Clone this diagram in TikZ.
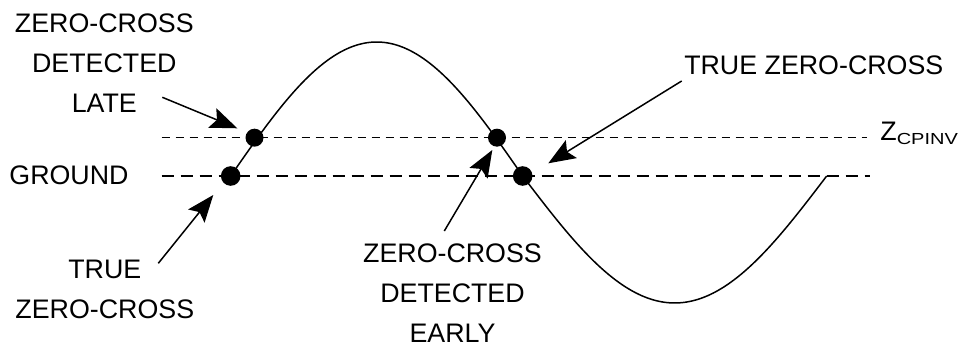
\documentclass[tikz,border=0pt]{standalone}
\usepackage{fontspec}
\setmainfont{Liberation Sans}
\usetikzlibrary{arrows.meta}
\tikzset{
  >={Stealth[length=13.5pt,width=10.5pt,inset=2.5pt]},
  lbl/.style={inner sep=0pt,align=center,font=\fontsize{13.4}{20}\selectfont},
  pointer/.style={->,line width=0.75pt},
  wave/.style={line width=0.75pt},
  zcpline/.style={line width=0.75pt,dash pattern=on 4pt off 3pt},
  gndline/.style={line width=0.75pt,dash pattern=on 6pt off 3.5pt},
  crossdot/.style={circle,fill=black,inner sep=0pt,minimum size=#1}
}

\begin{document}
\begin{tikzpicture}[x=0.5pt,y=-0.5pt]
  \useasboundingbox (0,0) rectangle (960,346);

  % threshold and ground levels
  \coordinate (zcpL) at (161.7,137.7);
  \coordinate (zcpR) at (867,137.7);
  \coordinate (gndL) at (161.7,176);
  \coordinate (gndR) at (870,176);
  \draw[zcpline] (zcpL) -- (zcpR);
  \draw[gndline] (gndL) -- (gndR);

  % one period of the waveform
  \draw[wave] plot[domain=0:180,samples=60,smooth] ({230.7+\x/180*292},{176-134*sin(\x)})
    -- plot[domain=180:360,samples=60,smooth] ({522.7+(\x-180)/180*304},{176-127*sin(\x)});

  % crossing points
  \node[crossdot=9pt] (late) at (254.5,137.7) {};
  \node[crossdot=9.8pt] (trueL) at (230.7,176) {};
  \node[crossdot=9pt] (early) at (497,137.7) {};
  \node[crossdot=9.8pt] (trueR) at (522.7,176) {};

  % labels
  \node[lbl,anchor=north] (lateLbl) at (104.3,13.3) {ZERO-CROSS\\DETECTED\\LATE};
  \node[lbl,anchor=base west] (gndLbl) at (9,185) {GROUND};
  \node[lbl,anchor=north] (trueLLbl) at (104.8,260) {TRUE\\ZERO-CROSS};
  \node[lbl,anchor=north] (earlyLbl) at (452.5,243.3) {ZERO-CROSS\\DETECTED\\EARLY};
  \node[lbl,anchor=base] (trueRLbl) at (813.8,75) {TRUE ZERO-CROSS};
  \node[lbl,anchor=base west] (zcpLbl) at (880,141)
    {Z\raisebox{-1.65pt}{\fontsize{8}{9}\selectfont\scalebox{1.25}[1]{CPINV}}};

  % pointers
  \coordinate (lateTail) at (162.3,97.3);
  \coordinate (lateTip) at (237.3,128.3);
  \coordinate (trueLTail) at (158.3,263.3);
  \coordinate (trueLTip) at (213.3,195);
  \coordinate (earlyTail) at (444.3,231);
  \coordinate (earlyTip) at (492.3,150);
  \coordinate (trueRTail) at (681.7,81);
  \coordinate (trueRTip) at (548.3,163.3);
  \draw[pointer] (lateTail) -- (lateTip);
  \draw[pointer] (trueLTail) -- (trueLTip);
  \draw[pointer] (earlyTail) -- (earlyTip);
  \draw[pointer] (trueRTail) -- (trueRTip);
\end{tikzpicture}
\end{document}
